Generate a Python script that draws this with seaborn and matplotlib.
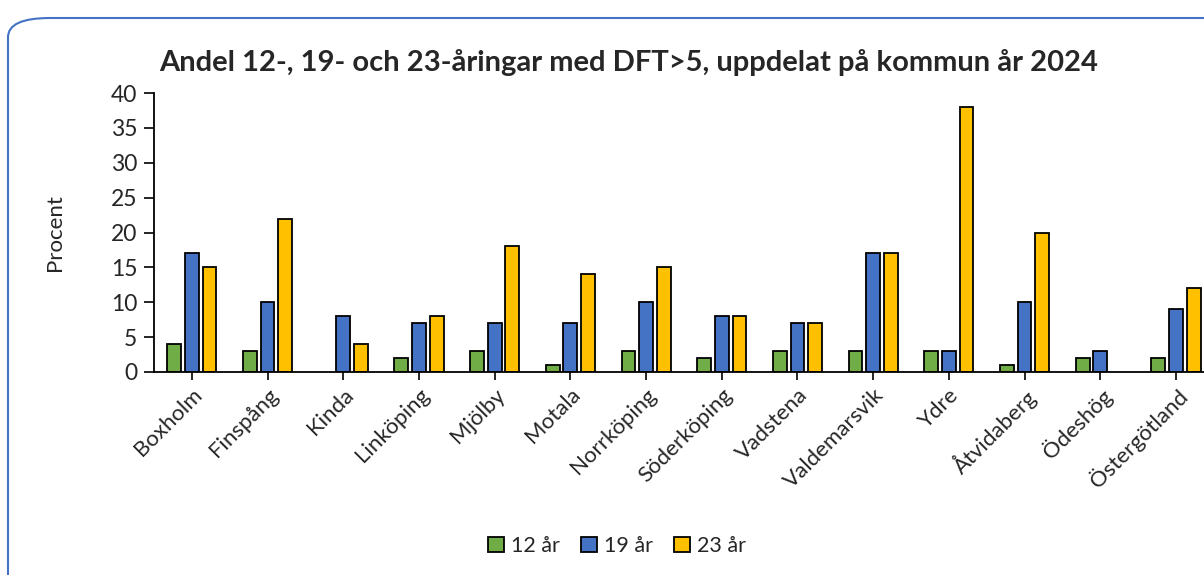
import numpy as np
import pandas as pd
import seaborn as sns
import matplotlib.pyplot as plt
from matplotlib.patches import FancyBboxPatch

# data
kommuner = ["Boxholm", "Finspång", "Kinda", "Linköping", "Mjölby", "Motala",
            "Norrköping", "Söderköping", "Vadstena", "Valdemarsvik", "Ydre",
            "Åtvidaberg", "Ödeshög", "Östergötland"]
ar12 = [4, 3, np.nan, 2, 3, 1, 3, 2, 3, 3, 3, 1, 2, 2]
ar19 = [17, 10, 8, 7, 7, 7, 10, 8, 7, 17, 3, 10, 3, 9]
ar23 = [15, 22, 4, 8, 18, 14, 15, 8, 7, 17, 38, 20, np.nan, 12]
grupper = ["12 år", "19 år", "23 år"]
farger = ["#70AD47", "#4472C4", "#FFC000"]

df = pd.DataFrame({"Kommun": kommuner, "12 år": ar12, "19 år": ar19, "23 år": ar23})
df = df.melt(id_vars="Kommun", var_name="Grupp", value_name="Procent").dropna()

sns.set_style("white")
plt.rcParams["font.family"] = ["Lato", "DejaVu Sans"]

fig = plt.figure(figsize=(12.04, 5.75), dpi=100)

# rounded frame around the chart (cut off at right and bottom)
frame = FancyBboxPatch((8 / 1204, -0.2), 1.2, 1.2 - 18 / 575,
                       boxstyle="round,pad=0,rounding_size=0.035",
                       transform=fig.transFigure, fill=False,
                       edgecolor="#4472C4", linewidth=1.5,
                       mutation_aspect=575 / 1204 * 2)
fig.patches.append(frame)

ax = fig.add_axes([154 / 1204, 1 - 372 / 575, 1 - 154 / 1204, (372 - 93) / 575])

sns.barplot(data=df, x="Kommun", y="Procent", hue="Grupp", order=kommuner,
            hue_order=grupper, palette=farger, saturation=1, width=0.7, gap=0.22,
            edgecolor="black", linewidth=1.3, ax=ax)

ax.set_xlim(-0.5, 13.37)
ax.set_ylim(0, 40)
ax.set_yticks(range(0, 41, 5))
ax.tick_params(axis="y", labelsize=16.5, length=7, width=1.2, direction="out",
               left=True, color="black", pad=5)
ax.tick_params(axis="x", labelsize=16, length=6, width=1.2, direction="out",
               bottom=True, color="black", pad=3)
plt.setp(ax.get_xticklabels(), rotation=45, ha="right", rotation_mode="anchor")

for side in ["top", "right"]:
    ax.spines[side].set_visible(False)
for side in ["left", "bottom"]:
    ax.spines[side].set_color("black")
    ax.spines[side].set_linewidth(1.3)

ax.set_xlabel("")
ax.set_ylabel("Procent", fontsize=16, labelpad=33)

fig.text(0.522, 1 - 62 / 575, "Andel 12-, 19- och 23-åringar med DFT>5, uppdelat på kommun år 2024",
         ha="center", va="center", fontsize=21, fontweight="bold")

handles, labels = ax.get_legend_handles_labels()
ax.legend(handles, labels, loc="center", bbox_to_anchor=(617 / 1204, 1 - 546 / 575),
          bbox_transform=fig.transFigure, ncol=3, frameon=False, fontsize=15.5,
          handlelength=0.75, handleheight=0.75, handletextpad=0.3, columnspacing=1.0)

fig.savefig("out.png", dpi=100)
